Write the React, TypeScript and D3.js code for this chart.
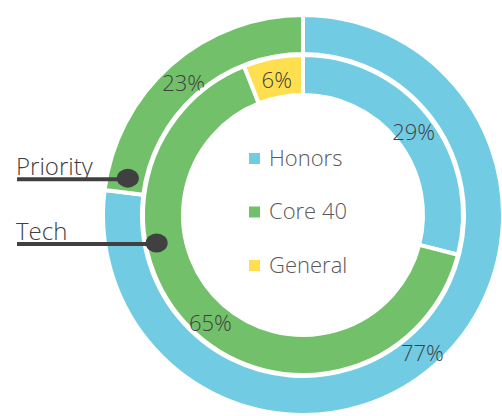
import * as d3 from 'd3';
import { useEffect, useRef } from 'react';

const categories = ['Honors', 'Core 40', 'General'];
const colors = ['#71CCE3', '#73C06A', '#FFDE4F'];

// outer ring = Priority, inner ring = Tech
const outerValues = [77, 23, 0];
const innerValues = [29, 65, 6];

const annotations = [
  { label: 'Priority', ring: 'outer', pos: 0.783, r: 179 },
  { label: 'Tech', ring: 'inner', pos: 0.72, r: 149 },
];

export default function App() {
  const ref = useRef<SVGSVGElement | null>(null);

  useEffect(() => {
    const width = 502;
    const height = 416;
    const cx = 303;
    const cy = 215;

    const root = d3.select(ref.current);
    root.selectAll('*').remove();
    root.attr('width', width).attr('height', height);

    const g = root.append('g').attr('transform', `translate(${cx},${cy})`);

    const pie = d3
      .pie<number>()
      .value(d => d)
      .sort(null);

    const rings = [
      { values: outerValues, inner: 161, outer: 200 },
      { values: innerValues, inner: 120, outer: 160 },
    ];

    /* ---------- RINGS ---------- */
    rings.forEach(ring => {
      const arc = d3
        .arc<d3.PieArcDatum<number>>()
        .innerRadius(ring.inner)
        .outerRadius(ring.outer);
      const arcs = pie(ring.values);

      g.append('g')
        .selectAll('path')
        .data(arcs.filter(d => d.value > 0))
        .enter()
        .append('path')
        .attr('d', arc)
        .attr('fill', d => colors[d.index])
        .attr('stroke', '#fff')
        .attr('stroke-width', 4);

      g.append('g')
        .selectAll('text')
        .data(arcs.filter(d => d.value > 0))
        .enter()
        .append('text')
        .attr('transform', d => `translate(${arc.centroid(d)})`)
        .attr('text-anchor', 'middle')
        .attr('dy', '0.5em')
        .attr('fill', '#404040')
        .style('font-family', 'Open Sans')
        .style('font-weight', 300)
        .style('font-size', '22px')
        .text(d => `${d.value}%`);
    });

    /* ---------- LEGEND ---------- */
    const legend = g
      .append('g')
      .selectAll('g')
      .data(categories)
      .enter()
      .append('g')
      .attr('transform', (_, i) => `translate(-54,${-57 + i * 53.5})`);

    legend
      .append('rect')
      .attr('x', 0)
      .attr('y', -5)
      .attr('width', 11)
      .attr('height', 11)
      .attr('fill', (_, i) => colors[i]);

    legend
      .append('text')
      .attr('x', 20)
      .attr('dy', '0.35em')
      .attr('fill', '#595959')
      .style('font-family', 'Open Sans')
      .style('font-weight', 300)
      .style('font-size', '22px')
      .text(d => d);

    /* ---------- RING CALLOUTS ---------- */
    annotations.forEach(a => {
      const ang = a.pos * 2 * Math.PI;
      const x = cx + a.r * Math.sin(ang);
      const y = cy - a.r * Math.cos(ang);
      root
        .append('line')
        .attr('x1', 17)
        .attr('x2', x)
        .attr('y1', y + 1)
        .attr('y2', y + 1)
        .attr('stroke', '#404040')
        .attr('stroke-width', 4);
      root
        .append('ellipse')
        .attr('cx', x)
        .attr('cy', y)
        .attr('rx', 11)
        .attr('ry', 9.5)
        .attr('fill', '#404040');
      root
        .append('text')
        .attr('x', 16)
        .attr('y', y - 3)
        .attr('fill', '#404040')
        .style('font-family', 'Open Sans')
        .style('font-weight', 300)
        .style('font-size', '24px')
        .text(a.label);
    });
  }, []);

  return (
    <div>
      <svg ref={ref} style={{ position: 'absolute', left: 0, top: 0 }} />
    </div>
  );
}
